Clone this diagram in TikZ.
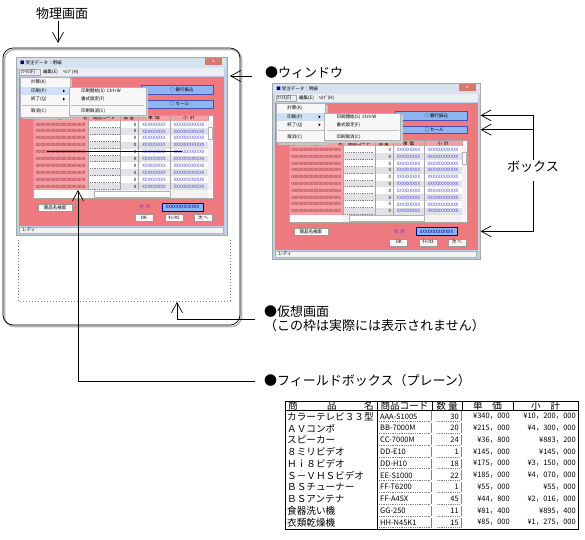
\documentclass[tikz,border=0pt]{standalone}
\usepackage{fontspec}
\setmainfont{Noto Sans CJK JP}
\usetikzlibrary{arrows.meta,calc,positioning}

\definecolor{winpink}{RGB}{238,122,128}
\definecolor{cellpink}{RGB}{246,160,165}
\definecolor{cellred}{RGB}{150,30,40}
\definecolor{optblue}{RGB}{140,182,240}
\definecolor{xblue}{RGB}{70,70,225}
\definecolor{framebl}{RGB}{190,208,230}
\definecolor{titlebl}{RGB}{214,226,240}
\definecolor{menubg}{RGB}{236,238,243}
\definecolor{hilite}{RGB}{208,224,244}
\definecolor{rowgray}{RGB}{226,226,230}
\definecolor{sumpurple}{RGB}{120,40,200}
\definecolor{closered}{RGB}{214,120,112}

\tikzset{
  lbl/.style   = {font=\fontsize{13}{15}\selectfont, inner sep=1pt},
  note/.style  = {font=\fontsize{13}{14}\selectfont, inner sep=1pt, align=left},
  ptr/.style   = {-{Straight Barb[length=10pt,width=11pt]}, line width=0.7pt},
  wtxt/.style  = {font=\fontsize{4.5}{5}\selectfont, inner sep=0pt},
  wbtn/.style  = {draw=gray!80, fill=gray!6, wtxt, minimum width=18pt, minimum height=7pt},
  dots/.style  = {gray, dash pattern=on 0.8pt off 2.2pt},
  fdots/.style = {gray, dash pattern=on 0.6pt off 1.2pt},
  tcell/.style = {font=\fontsize{7.5}{8}\selectfont, inner sep=0pt},
  tjp/.style   = {font=\fontsize{9.6}{11}\selectfont, inner sep=0pt},
  winshot/.pic = {
    % frame, title and menu bar
    \fill[framebl] (0,0) rectangle (211,178);
    \draw[gray!70] (0,0) rectangle (211,178);
    \fill[titlebl] (1,1) rectangle (210,11);
    \node[wtxt, anchor=west] at (4,6) {\textcolor{blue!50!black}{■}\ 受注データ：明細};
    \fill[closered] (189,1) rectangle (206,8);
    \node[wtxt, white] at (197.5,4.5) {x};
    \fill[menubg] (3,11) rectangle (208,19);
    \draw[gray!70] (3.5,12) rectangle (24,18.5);
    \node[wtxt, anchor=west] at (4.5,15.3) {ﾌｧｲﾙ(F)};
    \node[wtxt, anchor=west] at (27,15.3) {編集(E)};
    \node[wtxt, anchor=west] at (47,15.3) {ﾍﾙﾌﾟ(H)};
    % client area, status bar
    \fill[winpink] (3,20) rectangle (208,169);
    \fill[gray!8] (3,170) rectangle (207,176);
    \draw[gray!60] (3,170) rectangle (207,176);
    \node[wtxt, anchor=west] at (6,173) {レディ};
    % option boxes
    \fill[optblue] (125,28) rectangle (197,37);
    \draw[blue!40!gray] (125,28) rectangle (197,37);
    \node[wtxt, anchor=west] at (154,32.5) {○ 銀行振込};
    \fill[optblue] (125,43) rectangle (197,51);
    \draw[blue!40!gray] (125,43) rectangle (197,51);
    \node[wtxt, anchor=west] at (154,47) {□ セール};
    % grid
    \fill[white] (17,58) rectangle (197,141);
    \fill[cellpink] (17,58) rectangle (192,64);
    \node[wtxt] at (21,61) {商};
    \node[wtxt] at (44,61) {品};
    \node[wtxt] at (69,61) {名};
    \node[wtxt] at (88,61) {商品コード};
    \node[wtxt] at (113,61) {数 量};
    \node[wtxt] at (138,61) {単\ \ 価};
    \node[wtxt] at (173,61) {小\ \ 計};
    \foreach \r in {0,...,9} {
      \pgfmathsetmacro\ya{64+6.9*\r}
      \pgfmathsetmacro\yb{\ya+6.9}
      \pgfmathsetmacro\ym{\ya+3.45}
      \fill[cellpink] (17,\ya) rectangle (72,\yb);
      \ifodd\r\relax \fill[rowgray] (72,\ya) rectangle (192,\yb); \fi
      \node[wtxt, cellred] at (44.5,\ym) {00000000000000000000};
      \draw[fdots] (74,\yb-0.8) -- (103,\yb-0.8);
      \node[wtxt, anchor=east] at (120.5,\ym) {0};
      \node[wtxt, xblue] at (138,\ym) {XXXXXXXXX};
      \node[wtxt, xblue] at (173,\ym) {XXXXXXXXXXXX};
    }
    \foreach \cx in {72,104,122,154,192}
      \draw[gray!70] (\cx,58) -- (\cx,133);
    \fill[gray!10] (72,133) rectangle (192,141);
    \draw[gray!60, fill=white] (78,134) rectangle (154,140);
    \fill[gray!10] (192,64) rectangle (197,133);
    \draw[gray!60, fill=white] (192.5,70) rectangle (196.5,82);
    \draw[gray!70] (17,58) rectangle (197,141);
    % buttons and total
    \node[wbtn, minimum width=34pt] at (39,150.5) {商品名検索};
    \node[wtxt, sumpurple] at (129,150) {合\ \ 計};
    \node[draw=blue!60!black, fill=optblue, wtxt, text=blue!60!black,
          minimum width=41pt, minimum height=8pt] at (166.5,150) {XXXXXXXXXXXXX};
    \node[wbtn] at (128,161) {OK};
    \node[wbtn] at (158,161) {ｷｬﾝｾﾙ};
    \node[wbtn] at (187,161) {次\ へ};
    % file menu
    \fill[gray!45] (6,22) rectangle (56,62);
    \fill[gray!6] (4,20) rectangle (54,60);
    \draw[gray!60] (4,20) rectangle (54,60);
    \fill[hilite] (5,30) rectangle (53,38);
    \node[wtxt, anchor=west] at (15,25.5) {計算(K)};
    \node[wtxt, anchor=west] at (15,34) {印刷(P)};
    \node[wtxt, anchor=west] at (15,42) {終了(Q)};
    \node[wtxt, anchor=west] at (15,54) {取消(C)};
    \fill (47,32.5) -- (49,34) -- (47,35.5) -- cycle;
    \fill (47,40.5) -- (49,42) -- (47,43.5) -- cycle;
    \draw[gray!50] (6,48) -- (52,48);
    % print submenu
    \fill[gray!40] (55,32) rectangle (132,60);
    \fill[gray!6] (53,30) rectangle (130,58);
    \draw[gray!60] (53,30) rectangle (130,58);
    \node[wtxt, anchor=west] at (65,34) {印刷開始(S)\ \ Ctrl+W};
    \node[wtxt, anchor=west] at (65,42) {書式設定(F)};
    \draw[gray!50] (55,48) -- (128,48);
    \node[wtxt, anchor=west] at (65,54) {印刷取消(C)};
    % points the pointers go to
    \coordinate (-edge) at (214,19);
    \coordinate (-tip1) at (211,32.5);
    \coordinate (-tip2) at (211,47);
    \coordinate (-tip3) at (211,150);
    \coordinate (-fld) at (62,133);
  }
}

\begin{document}
\begin{tikzpicture}[x=1pt,y=-1pt]
  \path[fill=white, use as bounding box] (0,0) rectangle (585,539);

  % physical screen and virtual screen
  \node[lbl] (physlbl) at (62,14) {物理画面};
  \draw[gray!55, line width=1.6pt, rounded corners=10pt] (4.5,49.5) rectangle (241.5,326.5);
  \draw[line width=0.7pt, rounded corners=10pt] (3,48) rectangle (240,325);
  \draw[dots] (18,240) -- (18,301) -- (230,301) -- (230,238);

  % the two screenshots
  \pic (wL) at (16,57) {winshot};
  \pic[shift={(272.3,83.3)}, scale=0.987] (wR) {winshot};
  \draw[line width=0.7pt] (47,151) -- (182,151);

  % labels
  \node[lbl, anchor=west] (winlbl) at (264,73) {●ウィンドウ};
  \node[lbl] (boxlbl) at (533,167) {ボックス};
  \node[note, anchor=west] (virtlbl) at (263,319) {●仮想画面\\（この枠は実際には表示されません）};
  \node[lbl, anchor=west] (fbxlbl) at (263,381) {●フィールドボックス（プレーン）};

  % pointers
  \coordinate (physin) at (58,43);
  \coordinate (winfrom) at (252,76);
  \coordinate (virtin) at (177,302);
  \draw[ptr] (physlbl.south -| physin) -- (physin);
  \draw[ptr] (winfrom) -- (wL-edge);
  \draw[ptr] (boxlbl.north) |- (wR-tip1);
  \draw[ptr] (boxlbl.north |- wR-tip2) -- (wR-tip2);
  \draw[ptr] ([yshift=-7pt]boxlbl.south) |- (wR-tip3);
  \draw[ptr] ([xshift=-8pt]virtlbl.west) -| (virtin);
  \draw[ptr] ([xshift=-8pt]fbxlbl.west) -| (wL-fld);

  % plain field box sample
  \draw[line width=0.8pt] (285,401) rectangle (578,529);
  \draw[line width=0.8pt] (285,410.5) -- (578,410.5);
  \draw[line width=0.8pt] (377,401) -- (377,529);
  \foreach \cx in {432,462,513}
    \draw[semithick] (\cx,401) -- (\cx,410.5);
  \node[tjp] (hname1) at (293,405.7) {商};
  \node[tjp] (hname2) at (332,405.7) {品};
  \node[tjp] (hname3) at (369,405.7) {名};
  \node[tjp] (hcode) at (404.5,405.7) {商品コード};
  \node[tjp] (hqty) at (447,405.7) {数 量};
  \node[tjp] (hprice) at (487.5,405.7) {単　価};
  \node[tjp] (hsub) at (545.5,405.7) {小　計};
  \foreach \nm/\cd/\qt/\pr/\sb [count=\i] in {
      カラーテレビ３３型/AAA-S1005/30/¥340，000/¥10，200，000,
      ＡＶコンポ/BB-7000M/20/¥215，000/¥4，300，000,
      スピーカー/CC-7000M/24/¥36，800/¥883，200,
      ８ミリビデオ/DD-E10/1/¥145，000/¥145，000,
      Ｈｉ８ビデオ/DD-H10/18/¥175，000/¥3，150，000,
      Ｓ－ＶＨＳビデオ/EE-S1000/22/¥185，000/¥4，070，000,
      ＢＳチューナー/FF-T6200/1/¥55，000/¥55，000,
      ＢＳアンテナ/FF-A45X/45/¥44，800/¥2，016，000,
      食器洗い機/GG-250/11/¥81，400/¥895，400,
      衣類乾燥機/HH-N45K1/15/¥85，000/¥1，275，000} {
    \pgfmathsetmacro\ty{410.5+11.8*(\i-0.5)}
    \node[tjp, anchor=west] (item\i) at (287,\ty) {\nm};
    \node[tcell, anchor=west] (code\i) at (380,\ty) {\cd};
    \node[tcell, anchor=east] (qty\i) at (459,\ty) {\qt};
    \node[tcell, anchor=east] (price\i) at (510,\ty) {\pr};
    \node[tcell, anchor=east] (sub\i) at (576,\ty) {\sb};
    \draw[fdots] (379,\ty+5) -- (430,\ty+5);
    \draw[fdots] (437,\ty+5) -- (460,\ty+5);
    \draw[gray] (431,\ty-5) -- (431,\ty+5);
    \draw[gray] (461,\ty-5) -- (461,\ty+5);
  }
\end{tikzpicture}
\end{document}
